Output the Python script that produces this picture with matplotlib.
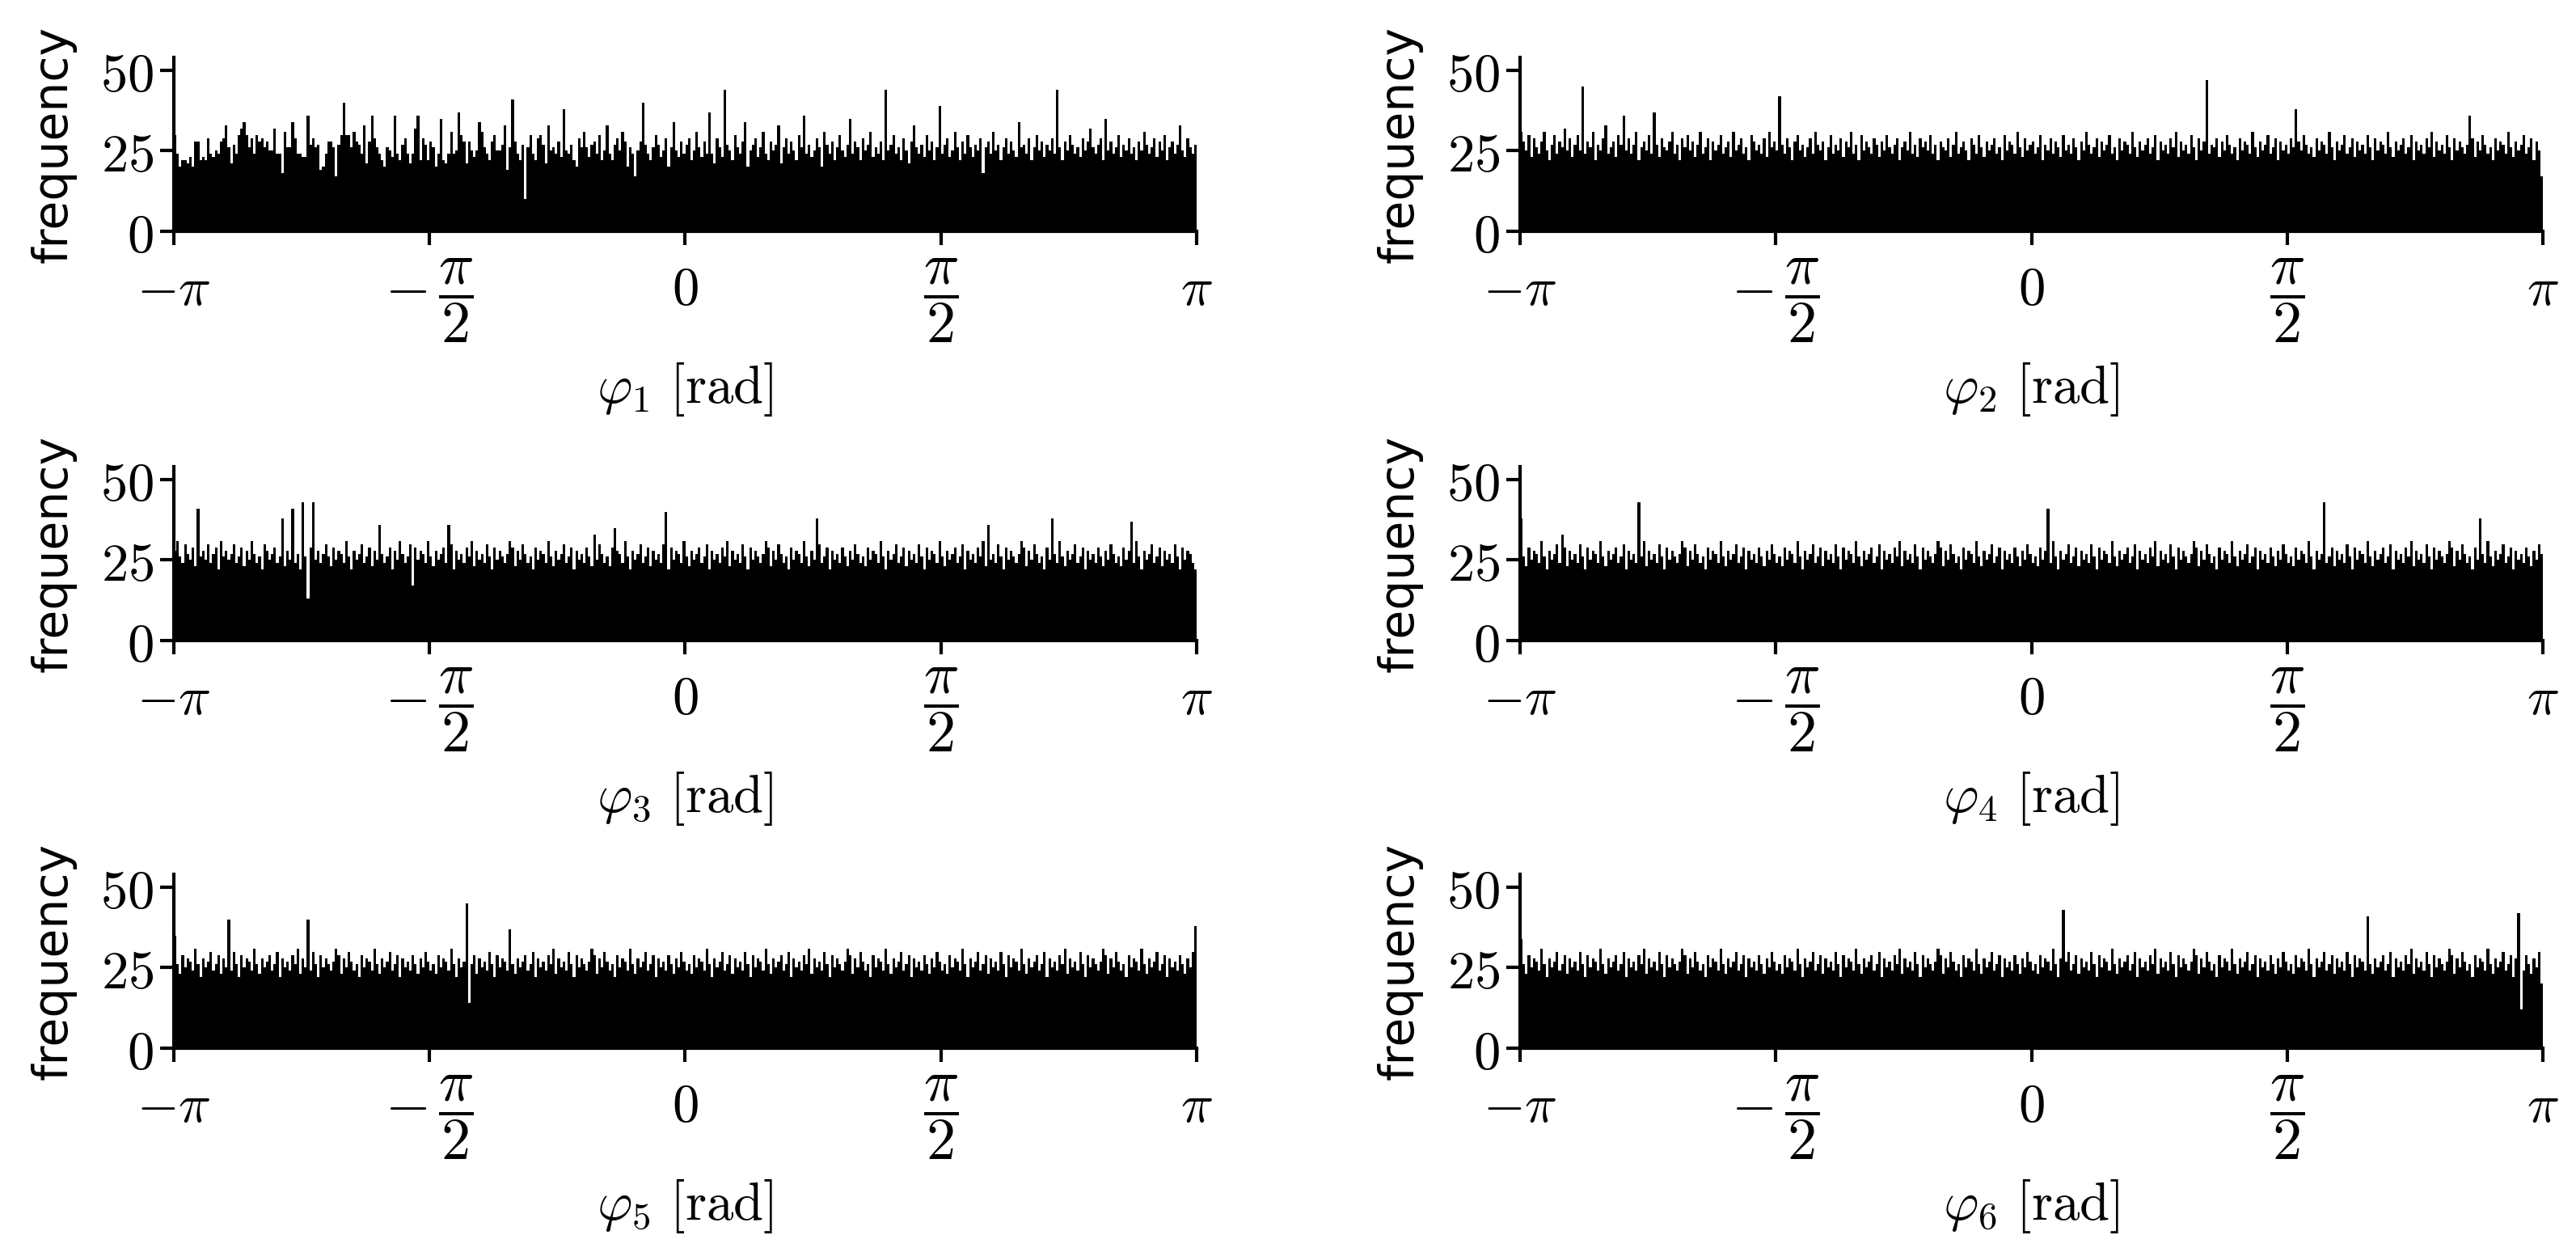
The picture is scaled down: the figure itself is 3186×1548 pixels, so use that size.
import numpy as np
import matplotlib
matplotlib.use("Agg")
import matplotlib.pyplot as plt
from matplotlib.transforms import ScaledTranslation

plt.rcParams['mathtext.fontset'] = 'cm'

def parse(s):
    return [int(v) for v in s.split()]

phi1 = parse("""
30 24 20 22 22 21 23 20 28 28 22 23 22 29 24 23 25 24 28 29
33 26 21 27 24 30 32 34 30 26 29 24 30 28 29 26 28 25 25 32
24 24 18 31 26 26 34 29 24 24 23 23 36 27 29 26 27 19 20 24
28 28 26 17 27 30 40 30 30 26 31 28 27 24 33 21 28 36 29 26
24 22 20 26 25 23 36 24 22 27 29 24 21 24 32 36 22 29 27 22
28 26 20 24 35 22 21 24 31 24 25 37 30 28 21 28 25 23 25 34
31 26 24 22 28 30 25 25 27 33 19 26 41 28 24 22 27 10 26 30
24 22 29 30 27 21 33 25 26 24 28 23 38 25 24 27 22 20 29 26
31 26 23 27 28 24 30 22 25 33 24 22 27 29 25 31 28 20 26 24
17 25 28 40 27 24 22 26 30 27 23 25 29 20 26 34 25 23 28 24
27 29 22 25 31 26 23 28 24 37 24 21 29 26 23 44 27 25 22 30
26 24 28 34 20 25 27 29 23 26 31 24 22 28 25 27 33 21 26 29
24 28 25 22 30 26 36 24 27 23 25 29 26 20 31 27 24 28 22 26
30 25 23 27 35 24 28 26 22 29 25 27 31 23 26 24 28 22 44 25
27 30 24 26 22 29 25 21 28 33 26 24 27 23 30 25 28 22 26 39
24 27 29 23 25 31 26 22 28 24 30 26 23 27 25 29 18 26 28 24
31 25 27 22 26 29 24 28 25 23 34 26 27 24 29 22 26 30 25 28
23 27 25 29 24 44 26 22 28 25 30 27 24 26 23 29 25 28 32 26
24 27 29 22 35 25 28 24 26 30 23 27 25 29 24 26 22 28 25 31
27 24 26 29 23 28 25 30 22 26 28 24 27 33 25 23 29 26 24 27
""")
phi2 = parse("""
31 28 25 30 23 29 26 24 28 31 25 22 27 30 24 28 26 32 25 29
23 27 30 25 45 24 28 26 31 22 27 25 29 33 24 26 28 23 30 27
36 25 29 24 27 31 22 26 28 25 30 24 37 27 23 29 26 25 28 31
24 27 22 29 26 30 25 28 23 27 31 24 26 29 22 28 25 27 30 24
26 28 23 31 25 27 29 24 26 22 30 28 25 27 24 29 23 31 26 28
25 42 27 24 29 26 22 28 30 25 27 23 26 29 24 31 27 25 28 22
26 30 24 27 25 29 23 28 26 31 24 27 22 30 25 28 26 24 29 27
23 28 25 30 26 24 27 29 22 26 28 25 31 24 27 23 29 26 28 25
30 24 27 22 28 26 25 29 23 27 31 24 26 28 25 22 29 27 24 30
26 23 28 25 27 29 24 26 22 30 25 28 27 24 31 26 23 29 25 27
28 24 26 30 22 27 25 29 24 28 26 23 30 25 27 24 29 26 22 28
25 31 27 24 26 29 23 28 25 27 30 24 26 22 29 25 28 27 24 31
26 23 28 25 27 29 24 26 30 22 28 25 27 24 29 26 31 23 28 25
27 24 30 26 22 29 25 28 47 24 27 26 29 23 28 25 30 27 24 26
22 29 25 28 27 24 31 26 23 28 25 27 30 24 26 29 22 28 25 27
24 29 26 38 28 25 30 27 24 26 23 29 25 28 27 24 31 26 22 28
25 27 30 24 26 29 23 28 25 27 24 30 26 22 29 25 28 27 24 31
26 23 28 25 27 29 24 26 30 22 28 25 27 24 29 26 31 23 28 25
27 24 30 26 22 29 25 28 26 24 27 36 29 23 28 25 30 27 24 26
22 29 25 28 27 24 31 26 23 28 25 27 30 24 26 29 22 28 25 17
""")
phi3 = parse("""
28 31 26 24 30 27 25 29 23 41 26 28 25 30 24 27 29 22 31 26
28 25 27 30 24 26 29 23 28 25 31 27 24 26 22 30 28 25 27 29
24 26 38 23 28 25 41 24 27 22 43 26 13 29 43 25 28 24 27 30
26 23 29 25 28 27 24 31 26 22 28 25 27 30 24 26 29 23 28 25
36 27 24 26 29 22 28 25 31 27 24 26 30 17 29 25 28 27 24 31
26 23 28 25 27 29 24 36 30 22 28 25 27 24 29 26 31 23 28 25
27 24 30 26 22 29 25 28 26 24 27 31 29 23 28 25 30 27 24 26
22 29 25 28 27 24 31 26 23 28 25 27 30 24 26 29 22 28 25 27
24 29 26 23 33 25 30 27 24 26 23 29 35 28 27 24 31 26 22 28
25 27 30 24 26 29 23 28 25 27 24 30 40 22 29 25 28 27 24 31
26 23 28 25 27 29 24 26 30 22 28 25 27 24 29 26 31 23 28 25
27 24 30 26 22 29 25 28 26 24 27 31 29 23 28 25 30 27 24 26
22 29 25 28 27 24 31 26 23 28 25 38 30 24 26 29 22 28 25 27
24 29 26 23 28 25 30 27 24 26 23 29 25 28 27 24 31 26 22 28
25 27 30 24 26 29 23 28 25 27 24 30 26 22 29 25 28 27 24 31
26 23 28 25 27 29 24 26 30 22 28 25 27 24 29 26 31 23 36 25
27 24 30 26 22 29 25 28 26 24 27 31 29 23 28 25 30 27 24 26
22 29 25 38 27 24 31 26 23 28 25 27 30 24 26 29 22 28 25 27
24 29 26 23 28 25 30 27 24 26 23 29 25 28 37 24 31 26 22 28
25 27 30 24 26 29 23 28 25 27 24 30 26 22 29 25 28 27 24 22
""")
phi4 = parse("""
38 26 23 29 25 28 27 24 31 26 22 28 25 27 30 24 33 29 23 28
25 27 24 30 26 22 29 25 28 27 24 31 26 23 28 25 27 29 24 26
30 22 28 25 27 24 43 26 31 23 28 25 27 24 30 26 22 29 25 28
26 24 27 31 29 23 28 25 30 27 24 26 22 29 25 28 27 24 31 26
23 28 25 27 30 24 26 29 22 28 25 27 24 29 26 23 28 25 30 27
24 26 23 29 25 28 27 24 31 26 22 28 25 27 30 24 26 29 23 28
25 27 24 30 26 22 29 25 28 27 24 31 26 23 28 25 27 29 24 26
30 22 28 25 27 24 29 26 31 23 28 25 27 24 30 26 22 29 25 28
26 24 27 31 29 23 28 25 30 27 24 26 22 29 25 28 27 24 31 26
23 28 25 27 30 24 26 29 22 28 25 27 24 29 26 23 28 25 30 27
24 26 23 29 25 28 41 24 31 26 22 28 25 27 30 24 26 29 23 28
25 27 24 30 26 22 29 25 28 27 24 31 26 23 28 25 27 29 24 26
30 22 28 25 27 24 29 26 31 23 28 25 27 24 30 26 22 29 25 28
26 24 27 31 29 23 28 25 30 27 24 26 22 29 25 28 27 24 31 26
23 28 25 27 30 24 26 29 22 28 25 27 24 29 26 23 28 25 30 27
24 26 23 29 25 28 27 24 31 26 22 28 25 27 43 24 26 29 23 28
25 27 24 30 26 22 29 25 28 27 24 31 26 23 28 25 27 29 24 26
30 22 28 25 27 24 29 26 31 23 28 25 27 24 30 26 22 29 25 28
26 24 27 31 29 23 28 25 30 27 24 26 22 29 25 38 27 24 31 26
23 28 25 27 30 24 26 29 22 28 25 27 24 29 26 23 28 25 30 27
""")
phi5 = parse("""
35 26 23 29 25 28 27 24 31 26 22 28 25 27 30 24 26 29 23 28
25 40 24 30 26 22 29 25 28 27 24 31 26 23 28 25 27 29 24 26
30 22 28 25 27 24 29 26 31 23 28 25 40 24 30 26 22 29 25 28
26 24 27 31 29 23 28 25 30 27 24 26 22 29 25 28 27 24 31 26
23 28 25 27 30 24 26 29 22 28 25 27 24 29 26 23 28 25 30 27
24 26 23 29 25 28 27 24 31 26 22 28 25 27 45 14 26 29 23 28
25 27 24 30 26 22 29 25 28 27 24 37 26 23 28 25 27 29 24 26
30 22 28 25 27 24 29 26 31 23 28 25 27 24 30 26 22 29 25 28
26 24 27 31 29 23 28 25 30 27 24 26 22 29 25 28 27 24 31 26
23 28 25 27 30 24 26 29 22 28 25 27 24 29 26 23 28 25 30 27
24 26 23 29 25 28 27 24 31 26 22 28 25 27 30 24 26 29 23 28
25 27 24 30 26 22 29 25 28 27 24 31 26 23 28 25 27 29 24 26
30 22 28 25 27 24 29 26 31 23 28 25 27 24 30 26 22 29 25 28
26 24 27 31 29 23 28 25 30 27 24 26 22 29 25 28 27 24 31 26
23 28 25 27 30 24 26 29 22 28 25 27 24 29 26 23 28 25 30 27
24 26 23 29 25 28 27 24 31 26 22 28 25 27 30 24 26 29 23 28
25 27 24 30 26 22 29 25 28 27 24 31 26 23 28 25 27 29 24 26
30 22 28 25 27 24 29 26 31 23 28 25 27 24 30 26 22 29 25 28
26 24 27 31 29 23 28 25 30 27 24 26 22 29 25 28 27 24 31 26
23 28 25 27 30 24 26 29 22 28 25 27 24 29 26 23 28 25 30 38
""")
phi6 = parse("""
34 26 23 29 25 28 27 24 31 26 22 28 25 27 30 24 26 29 23 28
25 27 24 30 26 22 29 25 28 27 24 31 26 23 28 25 27 29 24 26
30 22 28 25 27 24 29 26 31 23 28 25 27 24 30 26 22 29 25 28
26 24 27 31 29 23 28 25 30 27 24 26 22 29 25 28 27 24 31 26
23 28 25 27 30 24 26 29 22 28 25 27 24 29 26 23 28 25 30 27
24 26 23 29 25 28 27 24 31 26 22 28 25 27 30 24 26 29 23 28
25 27 24 30 26 22 29 25 28 27 24 31 26 23 28 25 27 29 24 26
30 22 28 25 27 24 29 26 31 23 28 25 27 24 30 26 22 29 25 28
26 24 27 31 29 23 28 25 30 27 24 26 22 29 25 28 27 24 31 26
23 28 25 27 30 24 26 29 22 28 25 27 24 29 26 23 28 25 30 27
24 26 23 29 25 28 27 24 31 26 22 28 43 27 30 24 26 29 23 28
25 27 24 30 26 22 29 25 28 27 24 31 26 23 28 25 27 29 24 26
30 22 28 25 27 24 29 26 31 23 28 25 27 24 30 26 22 29 25 28
26 24 27 31 29 23 28 25 30 27 24 26 22 29 25 28 27 24 31 26
23 28 25 27 30 24 26 29 22 28 25 27 24 29 26 23 28 25 30 27
24 26 23 29 25 28 27 24 31 26 22 28 25 27 30 24 26 29 23 28
25 27 24 30 26 22 29 25 28 27 24 41 26 23 28 25 27 29 24 26
30 22 28 25 27 24 29 26 31 23 28 25 27 24 30 26 22 29 25 28
26 24 27 31 29 23 28 25 30 27 24 26 22 29 25 28 27 24 31 26
23 28 25 27 30 24 26 29 22 28 42 12 24 29 26 23 28 25 30 20
""")

series = [phi1, phi2, phi3, phi4, phi5, phi6]
xlabels = [r"$\varphi_{%d}\ \mathrm{[rad]}$" % i for i in range(1, 7)]
xticks = [-np.pi, -np.pi / 2, 0, np.pi / 2, np.pi]
xticklabels = [r"$-\pi$", r"$-\,\dfrac{\pi}{2}$", r"$0$", r"$\dfrac{\pi}{2}$", r"$\pi$"]
yticks = [0, 25, 50]

W, H = 3186, 1548
fig = plt.figure(figsize=(W / 200, H / 200), dpi=200)
lefts = [215 / W, 1880 / W]
bottoms = [1 - 286 / H, 1 - 792 / H, 1 - 1296 / H]
width = 1265 / W
height = 215 / H
fs = 24

for i, vals in enumerate(series):
    r, c = divmod(i, 2)
    ax = fig.add_axes([lefts[c], bottoms[r], width, height])
    edges = np.linspace(-np.pi, np.pi, len(vals) + 1)
    ax.stairs(vals, edges, fill=True, color='black')
    ax.set_xlim(-np.pi, np.pi)
    ax.set_ylim(0, 54)
    ax.set_yticks(yticks)
    ax.set_yticklabels([r"$%d$" % v for v in yticks], fontsize=fs)
    ax.set_xticks(xticks)
    ax.set_xticklabels(xticklabels, fontsize=fs)
    ax.tick_params(width=1.5, length=6)
    ax.tick_params(axis='x', pad=20)
    ax.tick_params(axis='y', pad=3)
    for lab in ax.get_xticklabels():
        lab.set_verticalalignment('center')
        if 'frac' in lab.get_text():
            lab.set_fontsize(26)
            lab.set_transform(lab.get_transform() +
                              ScaledTranslation(0, -5 / 72, fig.dpi_scale_trans))
    for s in ('top', 'right'):
        ax.spines[s].set_visible(False)
    for s in ('left', 'bottom'):
        ax.spines[s].set_linewidth(1.5)
    ax.set_ylabel("frequency", fontsize=21, va='center')
    ax.yaxis.set_label_coords(-0.118, 0.5)
    ax.set_xlabel(xlabels[i], fontsize=fs, va='center')
    ax.xaxis.set_label_coords(0.5, -0.91)

fig.savefig("out.png", dpi=200)
